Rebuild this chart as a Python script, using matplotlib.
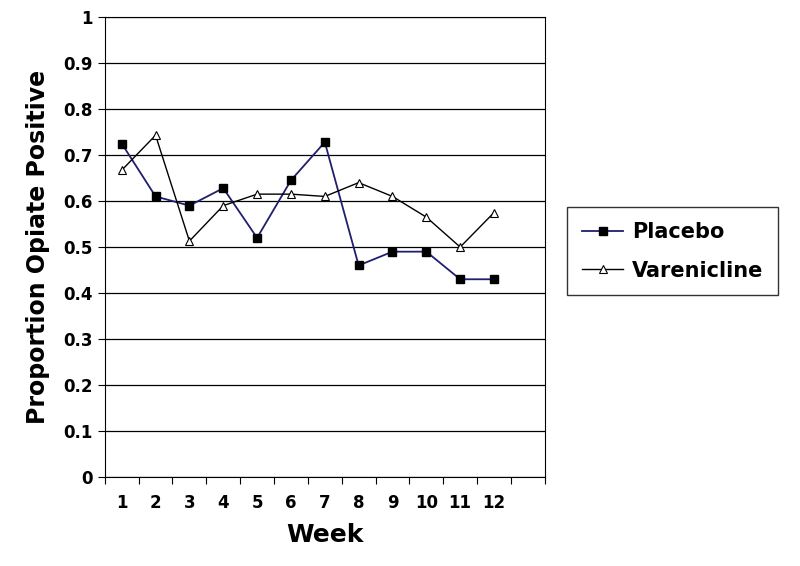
import matplotlib
matplotlib.use("Agg")
import matplotlib.pyplot as plt
import numpy as np

weeks = list(range(1, 13))
placebo = [0.725, 0.61, 0.59, 0.628, 0.52, 0.645, 0.728, 0.46, 0.49, 0.49, 0.43, 0.43]
varenicline = [0.667, 0.743, 0.513, 0.59, 0.615, 0.615, 0.61, 0.64, 0.61, 0.565, 0.5, 0.575]

fig = plt.figure(figsize=(8, 5.66), dpi=100)
ax = fig.add_axes([0.131, 0.157, 0.55, 0.813])
ax.plot(weeks, placebo, color="#1f1f6e", marker="s", markersize=6, markerfacecolor="black",
        markeredgecolor="black", lw=1.3, label="Placebo")
ax.plot(weeks, varenicline, color="black", marker="^", markersize=6, markerfacecolor="white",
        markeredgecolor="black", lw=1.0, markeredgewidth=0.8, label="Varenicline")
ax.set_xlim(0.5, 13.5)
ax.set_ylim(0, 1)
ax.set_yticks(np.arange(0, 1.01, 0.1))
ax.set_yticklabels(["0"] + [f"{v:.1f}" for v in np.arange(0.1, 1.0, 0.1)] + ["1"])
ax.yaxis.grid(True, color="black", lw=0.9)
ax.set_axisbelow(True)
ax.set_xticks(np.arange(0.5, 13.6, 1))
ax.set_xticklabels([])
ax.set_xticks(weeks, minor=True)
ax.set_xticklabels([str(w) for w in weeks], minor=True)
ax.tick_params(axis="x", which="minor", length=0, pad=12)
ax.tick_params(axis="x", which="major", length=5, direction="out")
ax.tick_params(axis="y", length=5)
for lbl in ax.get_xticklabels(minor=True) + ax.get_yticklabels():
    lbl.set_fontweight("bold")
    lbl.set_fontsize(12)
ax.set_xlabel("Week", fontsize=18, fontweight="bold", labelpad=8)
ax.set_ylabel("Proportion Opiate Positive", fontsize=17, fontweight="bold", labelpad=10)
leg = fig.legend(loc="upper left", bbox_to_anchor=(0.696, 0.652), fancybox=False,
                 edgecolor="black", prop={"size": 15, "weight": "bold"},
                 borderpad=0.7, labelspacing=0.9, handlelength=2.0, handletextpad=0.4)
leg.get_frame().set_linewidth(1)
fig.savefig("out.png", dpi=100)
